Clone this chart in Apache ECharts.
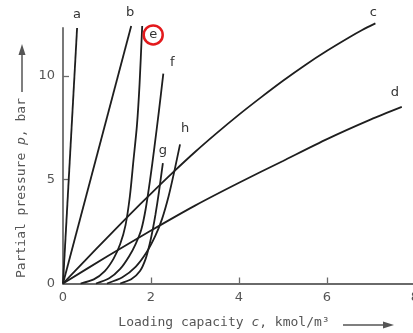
<!DOCTYPE html>
<html>
<head>
<meta charset="utf-8">
<script src="https://cdn.jsdelivr.net/npm/echarts@6/dist/echarts.min.js"></script>
<style>
  html, body { margin: 0; padding: 0; background: #fff; }
  #chart { width: 413px; height: 333px; }
</style>
</head>
<body>
<div id="chart"></div>
<script>
// tick labels
var xTickLabels = [0, 2, 4, 6, 8];
var yTickLabels = [0, 5, 10];

// curves (c in kmol/m3, p in bar)
var aX = [0, 0.32];
var aY = [0, 12.3];
var bX = [0, 1.55];
var bY = [0, 12.4];
var cX = [0, 0.5, 1, 1.5, 2, 2.5, 3, 3.5, 4, 4.5, 5, 5.5, 6, 6.5, 6.8, 7.1];
var cY = [0, 1.1, 2.2, 3.28, 4.33, 5.35, 6.33, 7.25, 8.13, 8.96, 9.76, 10.51, 11.2, 11.84, 12.2, 12.52];
var dX = [0, 1, 2, 3, 4, 5, 6, 7, 7.7];
var dY = [0, 1.3, 2.55, 3.75, 4.85, 5.9, 6.95, 7.9, 8.5];
var eX = [0.4, 0.7, 0.95, 1.15, 1.3, 1.42, 1.52, 1.6, 1.68, 1.74, 1.8];
var eY = [0, 0.2, 0.6, 1.2, 1.9, 2.8, 4.2, 5.9, 7.6, 9.6, 12.4];
var fX = [0.75, 1.05, 1.3, 1.5, 1.65, 1.78, 1.88, 1.98, 2.08, 2.18, 2.28];
var fY = [0, 0.25, 0.7, 1.3, 1.9, 2.6, 3.6, 5.0, 6.6, 8.3, 10.1];
var gX = [1.3, 1.55, 1.75, 1.88, 1.97, 2.04, 2.1, 2.18, 2.27];
var gY = [0, 0.2, 0.6, 1.2, 1.9, 2.6, 3.3, 4.4, 5.8];
var hX = [1.0, 1.35, 1.65, 1.9, 2.1, 2.25, 2.4, 2.53, 2.66];
var hY = [0, 0.3, 0.8, 1.5, 2.3, 3.1, 4.2, 5.4, 6.7];

var ink = "#1e1e1e";
var grey = "#555";

function curve(name, xs, ys, offset, labelExtra) {
  var data = xs.map(function (x, i) { return [x, ys[i]]; });
  var last = data.pop();
  var label = Object.assign({
    show: true,
    formatter: name,
    position: "inside",
    offset: offset,
    color: "#333",
    fontSize: 13,
    fontFamily: "DejaVu Sans"
  }, labelExtra || {});
  data.push({ value: last, label: label });
  return {
    name: name,
    type: "line",
    smooth: 0.25,
    clip: false,
    symbol: "circle",
    symbolSize: 0.1,
    itemStyle: { color: ink },
    lineStyle: { color: ink, width: 1.8 },
    label: { show: false },
    emphasis: { disabled: true },
    silent: true,
    z: 3,
    data: data
  };
}

var chart = echarts.init(document.getElementById("chart"));
chart.setOption({
  animation: false,
  grid: { left: 63, top: 28, width: 352, height: 255.5, outerBoundsMode: "none", containLabel: false },
  xAxis: {
    type: "value",
    min: 0,
    max: 8,
    interval: 2,
    axisLine: { lineStyle: { color: "#6a6a6a", width: 1.8 } },
    axisTick: { inside: true, length: 6, customValues: [2, 4, 6], lineStyle: { color: "#6a6a6a", width: 1.3 } },
    axisLabel: { customValues: xTickLabels, color: grey, fontSize: 13, margin: 8, fontFamily: "DejaVu Sans" },
    splitLine: { show: false }
  },
  yAxis: {
    type: "value",
    min: 0,
    max: 12.3,
    interval: 5,
    axisLine: { lineStyle: { color: "#6a6a6a", width: 1.8 } },
    axisTick: { inside: true, length: 6, customValues: [5, 10], lineStyle: { color: "#6a6a6a", width: 1.3 } },
    axisLabel: { customValues: yTickLabels, color: grey, fontSize: 13, margin: 8, fontFamily: "DejaVu Sans" },
    splitLine: { show: false }
  },
  graphic: [
    {
      type: "text",
      x: 224, y: 323,
      style: {
        text: "Loading capacity {i|c}, kmol/m³",
        align: "center", verticalAlign: "middle",
        fill: grey, fontSize: 13, fontFamily: "DejaVu Sans Mono",
        rich: { i: { fontStyle: "italic", fontSize: 13, fontFamily: "DejaVu Sans Mono", fill: grey } }
      }
    },
    { type: "line", shape: { x1: 343, y1: 325, x2: 388, y2: 325 }, style: { stroke: grey, lineWidth: 1.5 } },
    { type: "polygon", shape: { points: [[394, 325], [383, 321.5], [383, 328.5]] }, style: { fill: grey } },
    {
      type: "text",
      x: 22, y: 188, rotation: Math.PI / 2,
      style: {
        text: "Partial pressure {i|p}, bar",
        align: "center", verticalAlign: "middle",
        fill: grey, fontSize: 13, fontFamily: "DejaVu Sans Mono",
        rich: { i: { fontStyle: "italic", fontSize: 13, fontFamily: "DejaVu Sans Mono", fill: grey } }
      }
    },
    { type: "line", shape: { x1: 22, y1: 92, x2: 22, y2: 52 }, style: { stroke: grey, lineWidth: 1.5 } },
    { type: "polygon", shape: { points: [[22, 44], [18.5, 55], [25.5, 55]] }, style: { fill: grey } }
  ],
  series: [
    curve("a", aX, aY, [0, -13]),
    curve("b", bX, bY, [-1, -13]),
    curve("c", cX, cY, [-2, -11]),
    curve("d", dX, dY, [-7, -14]),
    curve("e", eX, eY, [11, 9], {
      borderColor: "#e3191c", borderWidth: 2.5, borderRadius: 12,
      width: 19, height: 19, lineHeight: 19, align: "center", padding: 0
    }),
    curve("f", fX, fY, [9, -11]),
    curve("g", gX, gY, [0, -12]),
    curve("h", hX, hY, [5, -16])
  ]
});
</script>
</body>
</html>
